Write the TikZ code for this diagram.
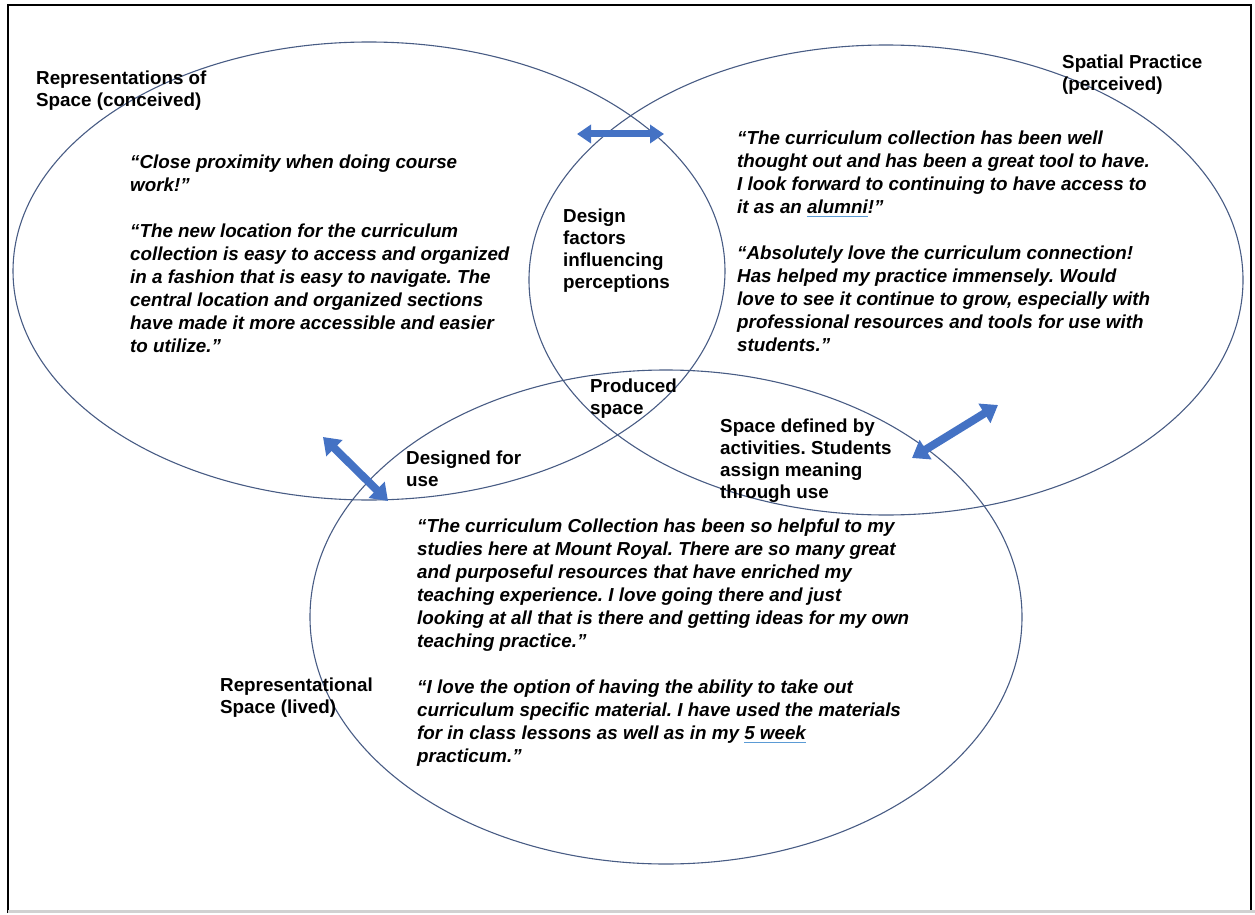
\documentclass[tikz,border=0pt]{standalone}
\usepackage{fontspec}
\setmainfont{Liberation Sans}
\usetikzlibrary{arrows.meta}
\definecolor{ringblue}{RGB}{72,92,132}
\definecolor{arrowblue}{RGB}{68,114,196}
\definecolor{markblue}{RGB}{91,155,213}
\newsavebox{\markbox}
\newcommand{\blueline}[1]{\sbox{\markbox}{#1}\rlap{\textcolor{markblue}{\rule[-3.5pt]{\wd\markbox}{1.3pt}}}\usebox{\markbox}}
\frenchspacing

\begin{document}
\begin{tikzpicture}[x=1pt, y=-1pt,
    ring/.style = {draw=ringblue, line width=1.1pt},
    areatext/.style = {anchor=north west, inner sep=0pt, align=left, font=\fontsize{18.8}{22}\selectfont\bfseries},
    quotetext/.style = {anchor=north west, inner sep=0pt, align=left, font=\fontsize{18.8}{23}\selectfont\bfseries\itshape},
    dblarrow/.style = {arrowblue, line width=8pt, {Triangle[width=22pt,length=16pt]}-{Triangle[width=22pt,length=16pt]}}]
        \useasboundingbox (0,0) rectangle (1255,915);
        % frame
        \draw[line width=2pt] (8,913) -- (8,5) -- (1251,5) -- (1251,913);
        \draw[line width=3pt, black!18] (8,911) -- (1255,911);
        % the three spaces
        \draw[ring] (369,271) ellipse [x radius=356pt, y radius=229pt];
        \draw[ring] (886,280) ellipse [x radius=357pt, y radius=235pt];
        \draw[ring] (666,617) ellipse [x radius=356pt, y radius=247pt];
        % arrows
        \coordinate (a1) at (577,134);
        \coordinate (a2) at (664,134);
        \coordinate (b1) at (323,437);
        \coordinate (b2) at (388,501);
        \coordinate (c1) at (912,458);
        \coordinate (c2) at (998,405);
        \draw[arrowblue, line width=7pt, {Triangle[width=18pt,length=14pt]}-{Triangle[width=18pt,length=14pt]}] (a1) -- (a2);
        \draw[dblarrow] (b1) -- (b2);
        \draw[dblarrow] (c1) -- (c2);
        % labels
        \node[areatext] (conc) at (36,71) {Representations of\\Space (conceived)};
        \node[areatext] (perc) at (1062,55) {Spatial Practice\\(perceived)};
        \node[areatext] (design) at (563,209) {Design\\factors\\influencing\\perceptions};
        \node[areatext] (prod) at (590,379) {Produced\\space};
        \node[areatext] (use) at (406,451) {Designed for\\use};
        \node[areatext] (act) at (720,419) {Space defined by\\activities. Students\\assign meaning\\through use};
        \node[areatext] (lived) at (220,678) {Representational\\Space (lived)};
        % quotes
        \node[quotetext] (q1) at (130,155) {“Close proximity when doing course\\work!”\\[23pt]
            “The new location for the curriculum\\collection is easy to access and organized\\in a fashion that is easy to navigate. The\\central location and organized sections\\have made it more accessible and easier\\to utilize.”};
        \node[quotetext] (q2) at (737,131) {“The curriculum collection has been well\\thought out and has been a great tool to have.\\I look forward to continuing to have access to\\it as an \blueline{alumni}!”\\[23pt]
            “Absolutely love the curriculum connection!\\Has helped my practice immensely. Would\\love to see it continue to grow, especially with\\professional resources and tools for use with\\students.”};
        \node[quotetext] (q3) at (417,519) {“The curriculum Collection has been so helpful to my\\studies here at Mount Royal. There are so many great\\and purposeful resources that have enriched my\\teaching experience. I love going there and just\\looking at all that is there and getting ideas for my own\\teaching practice.”\\[23pt]
            “I love the option of having the ability to take out\\curriculum specific material. I have used the materials\\for in class lessons as well as in my \blueline{5 week}\\practicum.”};
\end{tikzpicture}
\end{document}
